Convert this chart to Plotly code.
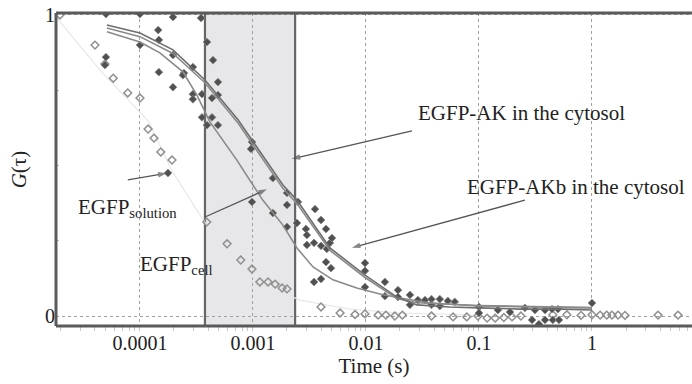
import plotly.graph_objects as go

# ---------------- data (tau in seconds, G(tau) normalised) ----------------
open_tau = [1.96e-5, 4.0e-5, 4.9e-5, 5.8e-5, 7.8e-5, 1.0e-4, 1.18e-4, 1.33e-4, 1.53e-4, 1.92e-4,
            3.9e-4, 5.9e-4, 7.8e-4, 9.8e-4, 1.15e-3, 1.36e-3, 1.57e-3, 1.81e-3, 2.0e-3, 4.0e-3,
            5.9e-3, 8.0e-3, 9.8e-3, 1.28e-2, 1.5e-2, 1.8e-2, 2.1e-2, 3.8e-2, 5.9e-2, 7.8e-2,
            0.098, 0.118, 0.139, 0.166, 0.196, 0.235, 0.45, 0.6, 0.8, 1.0, 1.18, 1.35, 1.5, 1.7,
            1.96, 3.84, 5.77]
open_g = [1.0, 0.90, 0.837, 0.79, 0.741, 0.724, 0.621, 0.591, 0.545, 0.518,
          0.312, 0.24, 0.186, 0.156, 0.113, 0.113, 0.106, 0.093, 0.09, 0.03,
          0.01, 0.005, 0.007, 0.003, 0.003, 0.0, 0.003, 0.0, -0.003, -0.003,
          0.0, -0.007, -0.007, -0.005, -0.003, 0.0, 0.004, 0.004, 0.002, 0.004, 0.003, 0.003,
          0.003, 0.003, 0.002, 0.003, 0.003]

filled_tau = [5.0e-5, 1.0e-4, 1.96e-4, 3.47e-4, 1.45e-4, 1.47e-4, 5.0e-5, 4.9e-5, 1.0e-4, 1.96e-4,
              2.94e-4, 1.47e-4, 2.45e-4, 2.4e-4, 1.96e-4, 2.94e-4, 3.54e-4, 2.94e-4, 3.54e-4, 3.92e-4,
              4.43e-4, 4.9e-4, 4.9e-4, 4.34e-4, 4.34e-4, 3.92e-4, 4.9e-4, 9.8e-4, 9.6e-4, 1.5e-3,
              2.0e-3, 2.0e-3, 9.8e-4, 1.5e-3, 2.0e-3, 2.5e-3, 3.54e-3, 4.0e-3, 4.43e-3, 2.94e-3,
              3.0e-3, 3.0e-3, 3.47e-3, 4.0e-3, 4.5e-3, 4.8e-3, 5.0e-3, 4.43e-3, 4.9e-3, 3.47e-3,
              4.0e-3, 2.45e-3, 9.8e-3, 9.8e-3, 9.8e-3, 1.47e-2, 1.47e-2, 1.92e-2, 1.92e-2, 2.45e-2,
              2.45e-2, 2.88e-2, 3.33e-2, 3.8e-2, 4.5e-2, 3.8e-2, 5.3e-2, 6.1e-2, 4.5e-2, 0.1,
              0.1, 0.147, 0.188, 0.255, 0.313, 0.384, 0.443, 0.5, 0.295, 0.339,
              0.384, 0.45, 0.51, 1.0, 1.77e-4]
filled_g = [1.003, 1.003, 0.993, 0.99, 0.95, 0.917, 0.86, 0.834, 0.90, 0.867,
            0.827, 0.81, 0.807, 0.80, 0.76, 0.737, 0.737, 0.72, 0.66, 0.91,
            0.85, 0.777, 0.734, 0.724, 0.66, 0.634, 0.634, 0.578, 0.555, 0.458,
            0.409, 0.369, 0.379, 0.342, 0.296, 0.379, 0.355, 0.319, 0.289, 0.289,
            0.269, 0.236, 0.243, 0.233, 0.223, 0.243, 0.259, 0.179, 0.159, 0.113,
            0.123, 0.309, 0.176, 0.15, 0.096, 0.113, 0.066, 0.086, 0.063, 0.07,
            0.037, 0.053, 0.053, 0.056, 0.056, 0.037, 0.05, 0.047, 0.033, 0.03,
            0.01, 0.02, 0.013, 0.027, 0.02, 0.02, 0.023, 0.023, -0.013, -0.027,
            -0.013, -0.013, -0.013, 0.043, 0.475]

fit_tau = [5.1e-5, 1.0e-4, 1.96e-4, 3.76e-4, 7.4e-4, 9.8e-4, 1.84e-3, 2.45e-3, 4.8e-3, 9.8e-3,
           1.88e-2, 2.82e-2, 5.5e-2, 0.1, 0.23, 0.53, 1.0]
fit_ak = [0.967, 0.940, 0.884, 0.784, 0.651, 0.585, 0.435, 0.385, 0.226, 0.136,
          0.063, 0.037, 0.030, 0.027, 0.023, 0.023, 0.020]
fit_akb = [0.957, 0.928, 0.872, 0.775, 0.640, 0.573, 0.424, 0.374, 0.218, 0.128,
           0.058, 0.044, 0.038, 0.035, 0.032, 0.030, 0.028]

cell_tau = [5.1e-5, 1.0e-4, 1.5e-4, 2.4e-4, 3.19e-4, 4.16e-4, 7.2e-4, 1.22e-3, 1.84e-3, 2.45e-3,
            3.4e-3, 5.1e-3, 8.3e-3, 1.33e-2, 2.0e-2, 3.68e-2, 0.1, 0.53, 1.0]
cell_g = [0.944, 0.910, 0.874, 0.811, 0.734, 0.645, 0.518, 0.385, 0.302, 0.226,
          0.163, 0.120, 0.093, 0.073, 0.060, 0.043, 0.033, 0.027, 0.027]

sol_tau = [1.84e-5, 4.43e-5, 1.2e-4, 1.9e-4, 3.4e-4, 6.25e-4, 1.15e-3, 2.6e-3, 7.2e-3, 2.0e-2, 0.1]
sol_g = [0.99, 0.817, 0.645, 0.485, 0.335, 0.193, 0.110, 0.053, 0.023, 0.010, 0.003]

# label arrows: [tail, head] in data units
arrow_ak_tau, arrow_ak_g = [2.55e-2, 2.2e-3], [0.615, 0.522]
arrow_akb_tau, arrow_akb_g = [0.255, 7.5e-3], [0.385, 0.227]
arrow_sol_tau, arrow_sol_g = [7.8e-5, 1.72e-4], [0.452, 0.474]
arrow_cell_tau, arrow_cell_g = [3.76e-4, 1.33e-3], [0.329, 0.421]

x_tick_vals = [1e-4, 1e-3, 1e-2, 1e-1, 1]
x_tick_text = ["0.0001", "0.001", "0.01", "0.1", "1"]
y_tick_vals = [0, 1]
y_tick_text = ["0", "1"]
band = [3.76e-4, 2.36e-3]

FONT = "Liberation Serif, Times New Roman, serif"
DARK = "#5a5a5a"

fig = go.Figure()
fig.add_trace(go.Scatter(x=sol_tau, y=sol_g, mode="lines",
                         line=dict(color="#e8e8e8", width=1.2), hoverinfo="skip"))
fig.add_trace(go.Scatter(x=open_tau, y=open_g, mode="markers",
                         marker=dict(symbol="diamond-open", size=6, color="#909090",
                                     line=dict(width=1.5))))
fig.add_trace(go.Scatter(x=filled_tau, y=filled_g, mode="markers",
                         marker=dict(symbol="diamond", size=6, color="#505050",
                                     line=dict(color="#8a8a8a", width=0.8))))
fig.add_trace(go.Scatter(x=cell_tau, y=cell_g, mode="lines",
                         line=dict(color="#8a8a8a", width=1.6)))
fig.add_trace(go.Scatter(x=fit_tau, y=fit_akb, mode="lines",
                         line=dict(color="#8a8a8a", width=1.6)))
fig.add_trace(go.Scatter(x=fit_tau, y=fit_ak, mode="lines",
                         line=dict(color="#6e6e6e", width=1.6)))

for ax_, ay_ in [(arrow_ak_tau, arrow_ak_g), (arrow_akb_tau, arrow_akb_g),
                 (arrow_sol_tau, arrow_sol_g), (arrow_cell_tau, arrow_cell_g)]:
    fig.add_trace(go.Scatter(x=ax_, y=ay_, mode="lines+markers", hoverinfo="skip",
                             line=dict(color="#555555", width=1.3),
                             marker=dict(symbol="arrow", angleref="previous", size=[0, 9],
                                         color="#555555", line=dict(width=0))))

# shaded band
fig.add_shape(type="rect", xref="x", yref="paper", x0=band[0], x1=band[1], y0=0, y1=1,
              fillcolor="#e7e7ea", line=dict(color="#666666", width=2.2), layer="below")
# frame lines
for s in [dict(x0=0, x1=0, y0=0, y1=1), dict(x0=0, x1=1, y0=1, y1=1), dict(x0=0, x1=1, y0=0, y1=0)]:
    fig.add_shape(type="line", xref="paper", yref="paper", line=dict(color=DARK, width=3), **s)

def px(xp):
    return (xp - 56) / 636.0

def py(yp):
    return (326 - yp) / 313.0

labels = [
    ("EGFP-AK in the cytosol", 416, 113),
    ("EGFP-AKb in the cytosol", 465, 187),
    ("EGFP<sub>solution</sub>", 76, 208),
    ("EGFP<sub>cell</sub>", 138, 265),
]
for t, xp, yp in labels:
    fig.add_annotation(x=px(xp), y=py(yp), xref="paper", yref="paper", text=t, showarrow=False,
                       xanchor="left", yanchor="middle", font=dict(family=FONT, size=21, color="#222"))

fig.update_layout(
    width=692, height=384, margin=dict(l=56, r=0, t=13, b=58),
    paper_bgcolor="white", plot_bgcolor="white", showlegend=False,
    font=dict(family=FONT, size=20, color="#222"),
)
fig.update_xaxes(type="log", range=[-4.743, 0.885], tickvals=x_tick_vals, ticktext=x_tick_text,
                 showgrid=True, gridcolor="#a0a0a0", griddash="3px,3px", gridwidth=1,
                 zeroline=False, showline=False, ticks="", ticklabelstandoff=3,
                 minor=dict(ticks="outside", ticklen=4, tickcolor="#c8c8c8", dtick="D1", showgrid=False),
                 title=dict(text="Time (s)", font=dict(family=FONT, size=21), standoff=2),
                 tickfont=dict(family=FONT, size=20))
fig.update_yaxes(range=[-0.0332, 1.0066], tickvals=y_tick_vals, ticktext=y_tick_text,
                 showgrid=True, gridcolor="#a0a0a0", griddash="3px,3px", gridwidth=1,
                 zeroline=False, showline=False, ticks="",
                 minor=dict(tickvals=[0.25, 0.5, 0.75], ticks="inside", ticklen=3,
                            tickcolor="#bbbbbb", showgrid=False),
                 title=dict(text="<i>G</i>(τ)", font=dict(family=FONT, size=21), standoff=12),
                 tickfont=dict(family=FONT, size=20))

fig.write_html("out.html")
